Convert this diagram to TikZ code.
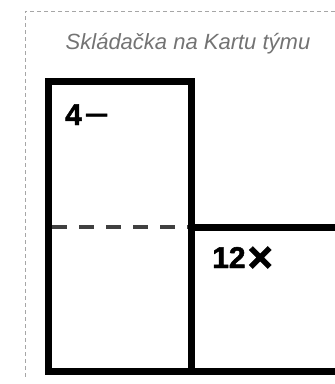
\documentclass[tikz,border=0pt]{standalone}
\usepackage{fontspec}
\setmainfont{Liberation Sans}
\newfontfamily\heavyfont[BoldFeatures={FakeBold=1.6}]{Liberation Sans}
\begin{document}
\begin{tikzpicture}[x=1pt,y=-1pt,
  guide/.style={draw=black!35,line width=0.8pt,dash pattern=on 4pt off 3pt},
  boxline/.style={draw=black,line width=7pt,line join=miter,line cap=rect},
  fold/.style={draw=black!75,line width=3.5pt,dash pattern=on 15pt off 12pt},
  titletext/.style={text=black!55,font=\fontsize{22}{26}\selectfont\itshape,inner sep=0pt},
  marktext/.style={text=black,font=\heavyfont\fontsize{30}{34}\selectfont\bfseries,inner sep=0pt}
]
\useasboundingbox (0,0) rectangle (335,384);
\coordinate (gtr) at (335,11);
\coordinate (gtl) at (25,11);
\coordinate (gbl) at (25,378);
\draw[guide] (gtr) -- (gtl) -- (gbl);
\node[titletext,anchor=base] (title) at (188,49) {Skládačka na Kartu týmu};
\coordinate (tl) at (48,81);
\coordinate (tr) at (191,81);
\coordinate (ml) at (48,227);
\coordinate (mm) at (191,227);
\coordinate (mr) at (340,227);
\coordinate (bl) at (48,371);
\coordinate (bm) at (191,371);
\coordinate (br) at (340,371);
\coordinate (fs) at (52,227);
\coordinate (fe) at (188,227);
\draw[boxline] (bl) -- (tl) -- (tr) -- (bm);
\draw[boxline] (bl) -- (br);
\draw[boxline] (mm) -- (mr);
\draw[fold] (fs) -- (fe);
\node[marktext,anchor=base west] (four) at (65,125) {4\hspace{3pt}\raisebox{3pt}{\scalebox{1.4}[0.85]{–}}};
\node[marktext,anchor=base west] (twelve) at (212,268) {12\hspace{2pt}\raisebox{-4pt}{\scalebox{1.45}{×}}};
\end{tikzpicture}
\end{document}
